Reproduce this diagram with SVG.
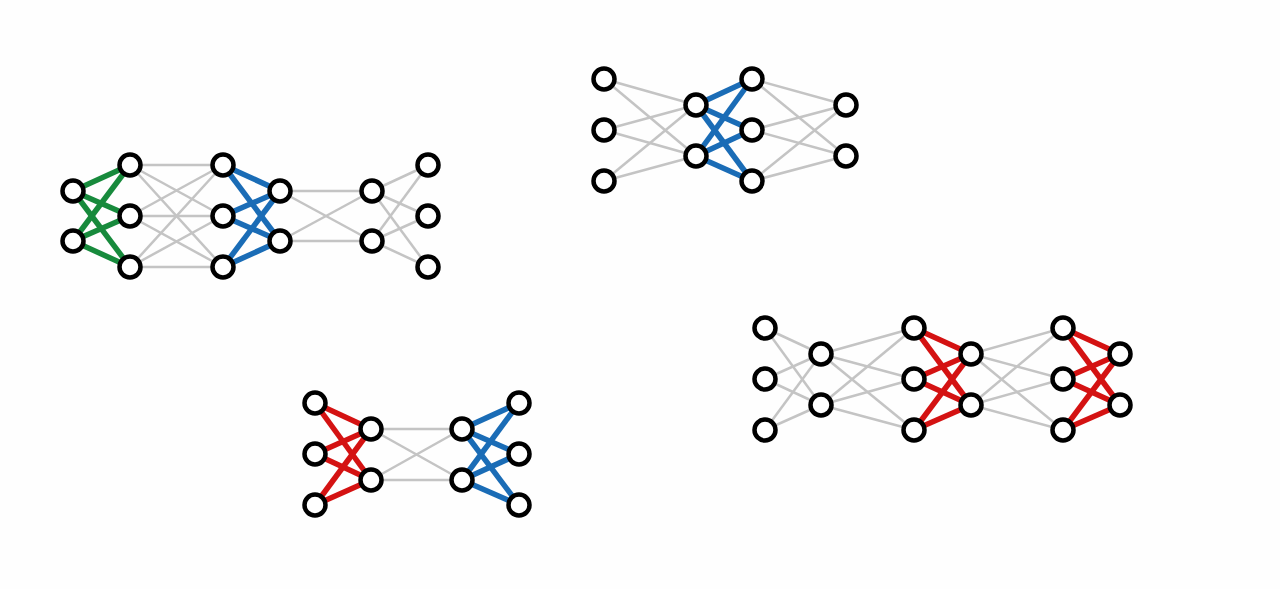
<svg xmlns="http://www.w3.org/2000/svg" width="1280" height="589" viewBox="0 0 1280 589">
<style>
.g{stroke:#c4c4c4;stroke-width:2.5;fill:none}
.gr{stroke:#178a3c;stroke-width:5.5;fill:none}
.bl{stroke:#1a6cb6;stroke-width:5.5;fill:none}
.rd{stroke:#d41212;stroke-width:5.5;fill:none}
.n{fill:#fff;stroke:#000;stroke-width:4.5}
</style>
<rect width="1280" height="589" fill="#fefefe"/>
<g id="connectors">
<!-- Network 1 -->
<g class="gr">
<line x1="73" y1="191" x2="130" y2="165"/><line x1="73" y1="191" x2="130" y2="216"/><line x1="73" y1="191" x2="130" y2="267"/>
<line x1="73" y1="241" x2="130" y2="165"/><line x1="73" y1="241" x2="130" y2="216"/><line x1="73" y1="241" x2="130" y2="267"/>
</g>
<g class="g">
<line x1="130" y1="165" x2="223" y2="165"/><line x1="130" y1="165" x2="223" y2="216"/><line x1="130" y1="165" x2="223" y2="267"/>
<line x1="130" y1="216" x2="223" y2="165"/><line x1="130" y1="216" x2="223" y2="216"/><line x1="130" y1="216" x2="223" y2="267"/>
<line x1="130" y1="267" x2="223" y2="165"/><line x1="130" y1="267" x2="223" y2="216"/><line x1="130" y1="267" x2="223" y2="267"/>
<line x1="280" y1="191" x2="372" y2="191"/><line x1="280" y1="191" x2="372" y2="241"/>
<line x1="280" y1="241" x2="372" y2="191"/><line x1="280" y1="241" x2="372" y2="241"/>
<line x1="372" y1="191" x2="428" y2="165"/><line x1="372" y1="191" x2="428" y2="216"/><line x1="372" y1="191" x2="428" y2="267"/>
<line x1="372" y1="241" x2="428" y2="165"/><line x1="372" y1="241" x2="428" y2="216"/><line x1="372" y1="241" x2="428" y2="267"/>
</g>
<g class="bl">
<line x1="223" y1="165" x2="280" y2="191"/><line x1="223" y1="165" x2="280" y2="241"/>
<line x1="223" y1="216" x2="280" y2="191"/><line x1="223" y1="216" x2="280" y2="241"/>
<line x1="223" y1="267" x2="280" y2="191"/><line x1="223" y1="267" x2="280" y2="241"/>
</g>
<!-- Network 2 -->
<g class="g">
<line x1="604" y1="79" x2="696" y2="105"/><line x1="604" y1="79" x2="696" y2="156"/>
<line x1="604" y1="130" x2="696" y2="105"/><line x1="604" y1="130" x2="696" y2="156"/>
<line x1="604" y1="181" x2="696" y2="105"/><line x1="604" y1="181" x2="696" y2="156"/>
<line x1="752" y1="79" x2="846" y2="105"/><line x1="752" y1="79" x2="846" y2="156"/>
<line x1="752" y1="130" x2="846" y2="105"/><line x1="752" y1="130" x2="846" y2="156"/>
<line x1="752" y1="181" x2="846" y2="105"/><line x1="752" y1="181" x2="846" y2="156"/>
</g>
<g class="bl">
<line x1="696" y1="105" x2="752" y2="79"/><line x1="696" y1="105" x2="752" y2="130"/><line x1="696" y1="105" x2="752" y2="181"/>
<line x1="696" y1="156" x2="752" y2="79"/><line x1="696" y1="156" x2="752" y2="130"/><line x1="696" y1="156" x2="752" y2="181"/>
</g>
<!-- Network 3 -->
<g class="rd">
<line x1="315" y1="403" x2="371" y2="429"/><line x1="315" y1="403" x2="371" y2="480"/>
<line x1="315" y1="454" x2="371" y2="429"/><line x1="315" y1="454" x2="371" y2="480"/>
<line x1="315" y1="505" x2="371" y2="429"/><line x1="315" y1="505" x2="371" y2="480"/>
</g>
<g class="g">
<line x1="371" y1="429" x2="462" y2="429"/><line x1="371" y1="429" x2="462" y2="480"/>
<line x1="371" y1="480" x2="462" y2="429"/><line x1="371" y1="480" x2="462" y2="480"/>
</g>
<g class="bl">
<line x1="462" y1="429" x2="519" y2="403"/><line x1="462" y1="429" x2="519" y2="454"/><line x1="462" y1="429" x2="519" y2="505"/>
<line x1="462" y1="480" x2="519" y2="403"/><line x1="462" y1="480" x2="519" y2="454"/><line x1="462" y1="480" x2="519" y2="505"/>
</g>
<!-- Network 4 -->
<g class="g">
<line x1="765" y1="328" x2="821" y2="354"/><line x1="765" y1="328" x2="821" y2="405"/>
<line x1="765" y1="379" x2="821" y2="354"/><line x1="765" y1="379" x2="821" y2="405"/>
<line x1="765" y1="430" x2="821" y2="354"/><line x1="765" y1="430" x2="821" y2="405"/>
<line x1="821" y1="354" x2="914" y2="328"/><line x1="821" y1="354" x2="914" y2="379"/><line x1="821" y1="354" x2="914" y2="430"/>
<line x1="821" y1="405" x2="914" y2="328"/><line x1="821" y1="405" x2="914" y2="379"/><line x1="821" y1="405" x2="914" y2="430"/>
<line x1="971" y1="354" x2="1063" y2="328"/><line x1="971" y1="354" x2="1063" y2="379"/><line x1="971" y1="354" x2="1063" y2="430"/>
<line x1="971" y1="405" x2="1063" y2="328"/><line x1="971" y1="405" x2="1063" y2="379"/><line x1="971" y1="405" x2="1063" y2="430"/>
</g>
<g class="rd">
<line x1="914" y1="328" x2="971" y2="354"/><line x1="914" y1="328" x2="971" y2="405"/>
<line x1="914" y1="379" x2="971" y2="354"/><line x1="914" y1="379" x2="971" y2="405"/>
<line x1="914" y1="430" x2="971" y2="354"/><line x1="914" y1="430" x2="971" y2="405"/>
<line x1="1063" y1="328" x2="1120" y2="354"/><line x1="1063" y1="328" x2="1120" y2="405"/>
<line x1="1063" y1="379" x2="1120" y2="354"/><line x1="1063" y1="379" x2="1120" y2="405"/>
<line x1="1063" y1="430" x2="1120" y2="354"/><line x1="1063" y1="430" x2="1120" y2="405"/>
</g>
</g>
<g id="net1">
<g id="n1a1"><circle class="n" cx="73" cy="191" r="10.5"/></g>
<g id="n1a2"><circle class="n" cx="73" cy="241" r="10.5"/></g>
<g id="n1b1"><circle class="n" cx="130" cy="165" r="10.5"/></g>
<g id="n1b2"><circle class="n" cx="130" cy="216" r="10.5"/></g>
<g id="n1b3"><circle class="n" cx="130" cy="267" r="10.5"/></g>
<g id="n1c1"><circle class="n" cx="223" cy="165" r="10.5"/></g>
<g id="n1c2"><circle class="n" cx="223" cy="216" r="10.5"/></g>
<g id="n1c3"><circle class="n" cx="223" cy="267" r="10.5"/></g>
<g id="n1d1"><circle class="n" cx="280" cy="191" r="10.5"/></g>
<g id="n1d2"><circle class="n" cx="280" cy="241" r="10.5"/></g>
<g id="n1e1"><circle class="n" cx="372" cy="191" r="10.5"/></g>
<g id="n1e2"><circle class="n" cx="372" cy="241" r="10.5"/></g>
<g id="n1f1"><circle class="n" cx="428" cy="165" r="10.5"/></g>
<g id="n1f2"><circle class="n" cx="428" cy="216" r="10.5"/></g>
<g id="n1f3"><circle class="n" cx="428" cy="267" r="10.5"/></g>
</g>
<g id="net2">
<g id="n2a1"><circle class="n" cx="604" cy="79" r="10.5"/></g>
<g id="n2a2"><circle class="n" cx="604" cy="130" r="10.5"/></g>
<g id="n2a3"><circle class="n" cx="604" cy="181" r="10.5"/></g>
<g id="n2b1"><circle class="n" cx="696" cy="105" r="10.5"/></g>
<g id="n2b2"><circle class="n" cx="696" cy="156" r="10.5"/></g>
<g id="n2c1"><circle class="n" cx="752" cy="79" r="10.5"/></g>
<g id="n2c2"><circle class="n" cx="752" cy="130" r="10.5"/></g>
<g id="n2c3"><circle class="n" cx="752" cy="181" r="10.5"/></g>
<g id="n2d1"><circle class="n" cx="846" cy="105" r="10.5"/></g>
<g id="n2d2"><circle class="n" cx="846" cy="156" r="10.5"/></g>
</g>
<g id="net3">
<g id="n3a1"><circle class="n" cx="315" cy="403" r="10.5"/></g>
<g id="n3a2"><circle class="n" cx="315" cy="454" r="10.5"/></g>
<g id="n3a3"><circle class="n" cx="315" cy="505" r="10.5"/></g>
<g id="n3b1"><circle class="n" cx="371" cy="429" r="10.5"/></g>
<g id="n3b2"><circle class="n" cx="371" cy="480" r="10.5"/></g>
<g id="n3c1"><circle class="n" cx="462" cy="429" r="10.5"/></g>
<g id="n3c2"><circle class="n" cx="462" cy="480" r="10.5"/></g>
<g id="n3d1"><circle class="n" cx="519" cy="403" r="10.5"/></g>
<g id="n3d2"><circle class="n" cx="519" cy="454" r="10.5"/></g>
<g id="n3d3"><circle class="n" cx="519" cy="505" r="10.5"/></g>
</g>
<g id="net4">
<g id="n4a1"><circle class="n" cx="765" cy="328" r="10.5"/></g>
<g id="n4a2"><circle class="n" cx="765" cy="379" r="10.5"/></g>
<g id="n4a3"><circle class="n" cx="765" cy="430" r="10.5"/></g>
<g id="n4b1"><circle class="n" cx="821" cy="354" r="10.5"/></g>
<g id="n4b2"><circle class="n" cx="821" cy="405" r="10.5"/></g>
<g id="n4c1"><circle class="n" cx="914" cy="328" r="10.5"/></g>
<g id="n4c2"><circle class="n" cx="914" cy="379" r="10.5"/></g>
<g id="n4c3"><circle class="n" cx="914" cy="430" r="10.5"/></g>
<g id="n4d1"><circle class="n" cx="971" cy="354" r="10.5"/></g>
<g id="n4d2"><circle class="n" cx="971" cy="405" r="10.5"/></g>
<g id="n4e1"><circle class="n" cx="1063" cy="328" r="10.5"/></g>
<g id="n4e2"><circle class="n" cx="1063" cy="379" r="10.5"/></g>
<g id="n4e3"><circle class="n" cx="1063" cy="430" r="10.5"/></g>
<g id="n4f1"><circle class="n" cx="1120" cy="354" r="10.5"/></g>
<g id="n4f2"><circle class="n" cx="1120" cy="405" r="10.5"/></g>
</g>
</svg>
